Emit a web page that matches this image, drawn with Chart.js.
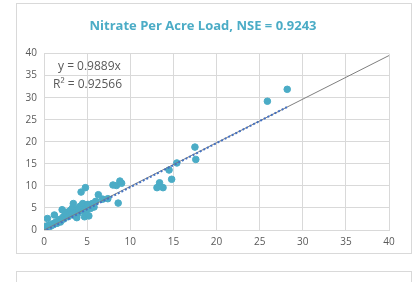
<!DOCTYPE html>
<html>
<head>
<meta charset="utf-8">
<script src="https://cdn.jsdelivr.net/npm/chart.js@4.4.0/dist/chart.umd.min.js"></script>
<style>
  html, body { margin: 0; padding: 0; background: #fff; width: 415px; height: 282px; overflow: hidden; }
  .box { position: absolute; left: 16px; width: 394px; border: 1px solid #d9d9d9; background: #fff; }
  #chartBox { top: 3px; height: 249px; }
  #nextBox { top: 271px; height: 40px; }
</style>
</head>
<body>
<div class="box" id="chartBox"><canvas id="nitrateChart" width="394" height="249"></canvas></div>
<div class="box" id="nextBox"></div>
<script>
// observed (x) vs simulated (y) per acre load
const observed = [0.2, 0.3, 0.4, 0.5, 0.6, 0.8, 1.0, 1.1, 1.2, 1.3, 1.5, 1.6, 1.8, 1.9, 2.0, 2.1, 2.2, 2.3, 2.4, 2.5,
  2.6, 2.8, 2.9, 3.0, 3.1, 3.2, 3.3, 3.4, 3.5, 3.6, 3.7, 3.8, 3.9, 4.0, 4.2, 4.3, 4.4, 4.5, 4.6, 4.7,
  4.8, 4.9, 5.0, 5.1, 5.2, 5.4, 5.6, 5.8, 6.0, 6.3, 6.8, 7.4, 8.0, 8.6, 8.4, 8.8, 9.0, 13.1, 13.4, 13.8,
  14.5, 14.8, 15.4, 17.5, 17.6, 25.9, 28.2];
const simulated = [0.6, 0.9, 2.6, 0.5, 1.1, 0.9, 1.4, 1.2, 3.4, 1.7, 1.5, 2.0, 2.4, 1.8, 2.2, 4.6, 2.9, 2.5, 3.3, 4.0,
  3.6, 3.0, 4.2, 3.8, 4.5, 3.5, 5.0, 6.0, 4.4, 3.2, 4.0, 2.8, 3.7, 4.9, 5.4, 8.6, 5.6, 6.0, 4.2, 3.0,
  9.6, 5.2, 4.6, 5.8, 3.2, 4.9, 6.0, 5.2, 6.5, 8.0, 7.0, 7.1, 10.2, 6.1, 10.1, 11.1, 10.6, 9.6, 10.7, 9.6,
  13.6, 11.5, 15.2, 18.8, 16.0, 29.2, 31.9];

// trendline through origin (y = 0.9889x) and the dotted fit over the data range
const trendX = [0, 40];
const trendY = [0, 39.56];
const fitX = [0.3, 28.2];
const fitY = [0, 27.9];

const axisTicks = [0, 5, 10, 15, 20, 25, 30, 35, 40];

const TEAL = '#4BACC6';
const GRID = '#d9d9d9';
const LABEL = '#595959';
const FONT = "'Open Sans', 'Liberation Sans', sans-serif";

const toPoints = (xs, ys) => xs.map((x, i) => ({ x, y: ys[i] }));

// equation + R² text in the top-left of the plot
const equationLabel = {
  id: 'equationLabel',
  afterDraw(chart) {
    const { ctx, chartArea } = chart;
    ctx.save();
    ctx.fillStyle = LABEL;
    ctx.font = `12px ${FONT}`;
    ctx.textBaseline = 'middle';
    ctx.fillText('y = 0.9889x', chartArea.left + 14, chartArea.top + 13);
    ctx.fillText('R\u00b2 = 0.92566', chartArea.left + 9, chartArea.top + 31);
    ctx.restore();
  }
};

const ctx = document.getElementById('nitrateChart').getContext('2d');

new Chart(ctx, {
  type: 'scatter',
  data: {
    datasets: [
      {
        label: 'Fit',
        type: 'line',
        data: toPoints(fitX, fitY),
        borderColor: '#4472C4',
        borderWidth: 2,
        borderDash: [2, 2],
        pointRadius: 0,
        fill: false,
        order: 0
      },
      {
        label: 'Trend',
        type: 'line',
        data: toPoints(trendX, trendY),
        borderColor: '#7f7f7f',
        borderWidth: 1,
        pointRadius: 0,
        fill: false,
        order: 1
      },
      {
        label: 'Per Acre Load',
        data: toPoints(observed, simulated),
        backgroundColor: TEAL,
        borderColor: TEAL,
        pointRadius: 3.3,
        order: 2
      }
    ]
  },
  options: {
    responsive: false,
    animation: false,
    layout: { padding: { left: 0, right: 22, top: 0, bottom: 0 } },
    plugins: {
      legend: { display: false },
      tooltip: { enabled: false },
      title: {
        display: true,
        text: 'Nitrate Per Acre Load, NSE = 0.9243',
        color: TEAL,
        font: { family: FONT, size: 13, weight: 'bold' },
        padding: { top: 14, bottom: 20 }
      }
    },
    scales: {
      x: {
        type: 'linear',
        min: 0,
        max: 40,
        afterBuildTicks: s => { s.ticks = axisTicks.map(v => ({ value: v })); },
        afterFit: s => { s.height = 23; },
        grid: { color: GRID, drawTicks: false },
        border: { color: GRID },
        ticks: { color: LABEL, padding: 6, font: { family: FONT, size: 10 } }
      },
      y: {
        type: 'linear',
        min: 0,
        max: 40,
        afterBuildTicks: s => { s.ticks = axisTicks.map(v => ({ value: v })); },
        afterFit: s => { s.width = 27; },
        grid: { color: GRID, drawTicks: false },
        border: { color: GRID },
        ticks: { color: LABEL, padding: 7, font: { family: FONT, size: 10 } }
      }
    }
  },
  plugins: [equationLabel]
});
</script>
</body>
</html>
